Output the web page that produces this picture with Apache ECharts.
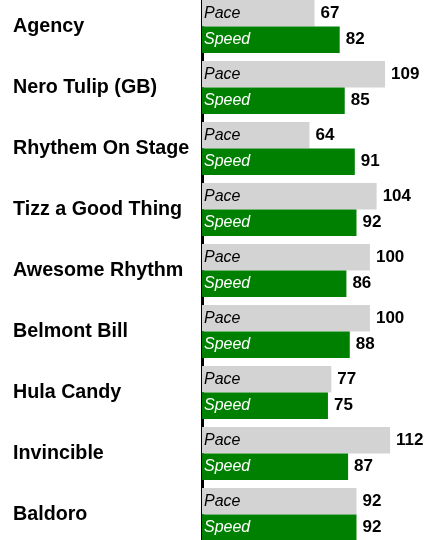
<!DOCTYPE html>
<html>
<head>
<meta charset="utf-8">
<script src="https://cdn.jsdelivr.net/npm/echarts@6/dist/echarts.min.js"></script>
<style>
  html, body { margin: 0; padding: 0; background: #fff; }
  #chart { width: 427px; height: 540px; }
</style>
</head>
<body>
<div id="chart"></div>
<script>
// Horses, top to bottom
const horses = ['Agency', 'Nero Tulip (GB)', 'Rhythem On Stage', 'Tizz a Good Thing',
  'Awesome Rhythm', 'Belmont Bill', 'Hula Candy', 'Invincible', 'Baldoro'];
const paceValues = [67, 109, 64, 104, 100, 100, 77, 112, 92];
const speedValues = [82, 85, 91, 92, 86, 88, 75, 87, 92];

const FONT = '"Liberation Sans", Arial, sans-serif';
const BAR_GAP = '0%';
const CAT_GAP = '13%';

// Coloured bar with its name written inside, at the left end
function barSeries(name, values, color, innerColor) {
  return {
    name: name,
    type: 'bar',
    yAxisIndex: 0,
    data: values,
    barGap: BAR_GAP,
    barCategoryGap: CAT_GAP,
    itemStyle: { color: color },
    label: {
      show: true,
      position: 'insideLeft',
      distance: 2,
      formatter: name,
      fontFamily: FONT,
      fontStyle: 'italic',
      fontSize: 16,
      color: innerColor,
    },
    silent: true,
  };
}

// Invisible twin bar that carries the number past the bar end
function valueSeries(name, values) {
  return {
    name: name + ' value',
    type: 'bar',
    yAxisIndex: 1,
    data: values,
    barGap: BAR_GAP,
    barCategoryGap: CAT_GAP,
    itemStyle: { color: 'rgba(0,0,0,0)' },
    label: {
      show: true,
      position: 'right',
      distance: 6,
      fontFamily: FONT,
      fontWeight: 'bold',
      fontSize: 17,
      color: '#000',
    },
    silent: true,
  };
}

const chart = echarts.init(document.getElementById('chart'), null, { renderer: 'canvas' });
chart.setOption({
  animation: false,
  grid: {
    left: 202, right: 6.7, top: -4, height: 549,
    outerBoundsMode: 'none', containLabel: false,
  },
  xAxis: {
    type: 'value',
    min: 0,
    max: 130,
    show: false,
  },
  yAxis: [
    {
      type: 'category',
      data: horses,
      inverse: true,
      axisLine: { show: true, lineStyle: { color: '#000', width: 3 } },
      axisTick: { show: false },
      axisLabel: {
        align: 'left',
        margin: 189,
        fontFamily: FONT,
        fontWeight: 'bold',
        fontSize: 19.7,
        color: '#000',
      },
    },
    {
      type: 'category',
      data: horses,
      inverse: true,
      position: 'left',
      show: false,
    },
  ],
  series: [
    barSeries('Pace', paceValues, '#d3d3d3', '#000'),
    barSeries('Speed', speedValues, '#008000', '#fff'),
    valueSeries('Pace', paceValues),
    valueSeries('Speed', speedValues),
  ],
});
</script>
</body>
</html>
